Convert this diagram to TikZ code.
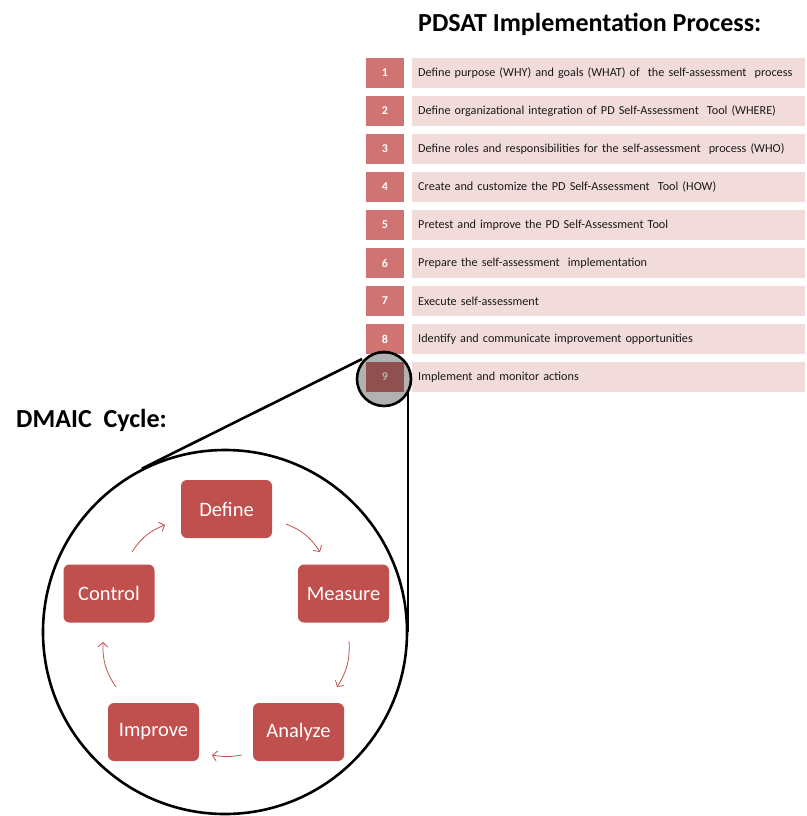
\documentclass[tikz,border=0pt]{standalone}
\usepackage{fontspec}
\setmainfont{Carlito}
\usetikzlibrary{arrows.meta}
\definecolor{boxred}{HTML}{C0504D}
\definecolor{numred}{HTML}{D07373}
\definecolor{rowpink}{HTML}{F2DCDB}
\definecolor{listtext}{HTML}{1A1A1A}
\begin{document}
\begin{tikzpicture}[x=1pt,y=-1pt,
  numbox/.style={fill=numred, minimum width=38pt, minimum height=30pt, inner sep=0pt,
    text=white, font=\fontsize{12}{13}\selectfont\bfseries},
  rowbox/.style={fill=rowpink, anchor=west, minimum height=30pt, text width=381pt,
    inner xsep=6pt, inner ysep=0pt, align=left, text=listtext,
    font=\fontsize{12.2}{13}\selectfont},
  heading/.style={anchor=base west, inner sep=0pt, font=\fontsize{26}{28}\selectfont\bfseries},
  dmaicbox/.style={fill=boxred, rounded corners=6pt, minimum width=91pt, minimum height=58pt,
    inner sep=0pt, text=white, font=\fontsize{20.5}{22}\selectfont},
  cyclearrow/.style={draw=boxred, line width=0.8pt, -{Straight Barb[length=4.5pt,width=10pt]}},
  ring/.style={circle, draw=black, line width=2.6pt, inner sep=0pt}
]
\useasboundingbox (0,0) rectangle (806,816);

% headings
\node[heading] (ptitle) at (418,32) {PDSAT Implementation Process:};
\node[heading] (dtitle) at (16,427) {DMAIC~ Cycle:};

% implementation steps
\foreach \k/\txt in {
  1/{Define purpose (WHY) and goals (WHAT) of~ the self-assessment~ process},
  2/{Define organizational integration of PD Self-Assessment~ Tool (WHERE)},
  3/{Define roles and responsibilities for the self-assessment~ process (WHO)},
  4/{Create and customize the PD Self-Assessment~ Tool (HOW)},
  5/{Pretest and improve the PD Self-Assessment Tool},
  6/{Prepare the self-assessment~ implementation},
  7/{Execute self-assessment},
  8/{Identify and communicate improvement opportunities},
  9/{Implement and monitor actions}}{
  \node[numbox] (n\k) at (385,{73+38*(\k-1)}) {\k};
  \node[rowbox] (t\k) at (412,{73+38*(\k-1)}) {\txt};
}

% magnifier: lens over step 9 and the enlarged view
\node[ring, minimum size=364pt] (zoomc) at (225,632) {};
\draw[line width=2.6pt] (zoomc.117) -- (362,359) coordinate (lensl);
\coordinate (lensr) at (408,391);
\draw[line width=2.6pt] (lensr) -- (lensr |- zoomc.east);
\node[ring, minimum size=54pt, fill=black, fill opacity=0.3] (lens) at (384,379) {};

% DMAIC cycle
\node[dmaicbox] (define)  at (226.5,509) {Define};
\node[dmaicbox] (measure) at (343.5,593.5) {Measure};
\node[dmaicbox] (analyze) at (298.5,732) {Analyze};
\node[dmaicbox] (improve) at (153.5,732) {Improve};
\node[dmaicbox] (control) at (109,593.5) {Control};

\coordinate (dm1) at (286,524);  \coordinate (dm2) at (320,552);
\coordinate (ma1) at (349,641);  \coordinate (ma2) at (337,687);
\coordinate (ai1) at (242,755);  \coordinate (ai2) at (212,755);
\coordinate (ic1) at (116,687);  \coordinate (ic2) at (103,642);
\coordinate (cd1) at (132,552);  \coordinate (cd2) at (165,525);
\draw[cyclearrow] (dm1) to[bend left=18] (dm2);
\draw[cyclearrow] (ma1) to[bend left=18] (ma2);
\draw[cyclearrow] (ai1) to[bend left=10] (ai2);
\draw[cyclearrow] (ic1) to[bend left=18] (ic2);
\draw[cyclearrow] (cd1) to[bend left=18] (cd2);
\end{tikzpicture}
\end{document}
